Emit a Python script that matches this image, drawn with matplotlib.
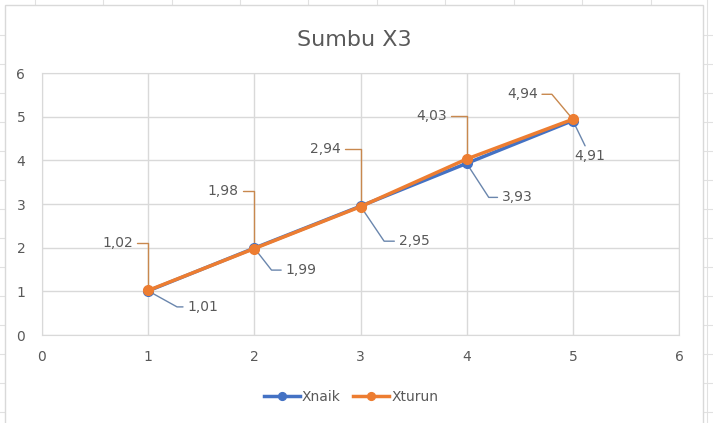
import matplotlib.pyplot as plt
from matplotlib.patches import Rectangle
from matplotlib.lines import Line2D

x = [1, 2, 3, 4, 5]
xnaik = [1.01, 1.99, 2.95, 3.93, 4.91]
xturun = [1.02, 1.98, 2.94, 4.03, 4.94]
labels_naik = ['1,01', '1,99', '2,95', '3,93', '4,91']
labels_turun = ['1,02', '1,98', '2,94', '4,03', '4,94']

blue = '#4472C4'
orange = '#ED7D31'
grey_txt = '#595959'
grid_c = '#D9D9D9'

plt.rcParams['font.family'] = ['DejaVu Sans']

W, H = 713, 423
fig = plt.figure(figsize=(W / 100, H / 100), dpi=100)
fig.patch.set_facecolor('white')

# spreadsheet cells behind the chart
for yy in range(35, 423, 29):
    fig.add_artist(Line2D([0, 1], [1 - yy / H, 1 - yy / H], color='#E1E1E1', lw=0.8, zorder=0))
for xx in [35, 103, 172, 240, 308, 377, 445, 514, 582, 651, 707]:
    fig.add_artist(Line2D([xx / W, xx / W], [0, 1], color='#E1E1E1', lw=0.8, zorder=0))

# chart area
fig.add_artist(Rectangle((5 / W, -0.05), (703 - 5) / W, 1.05 - 5 / H, transform=fig.transFigure,
                         facecolor='white', edgecolor=grid_c, lw=1.0, zorder=1))

ax = fig.add_axes([42 / W, 1 - 335 / H, (679 - 42) / W, (335 - 73) / H])
ax.set_zorder(2)
ax.set_facecolor('none')

ax.plot(x, xnaik, color=blue, lw=2.5, marker='o', ms=7, label='Xnaik', zorder=4)
ax.plot(x, xturun, color=orange, lw=2.5, marker='o', ms=7, label='Xturun', zorder=5)

ax.set_xlim(0, 6)
ax.set_ylim(0, 6)
ax.set_xticks(range(0, 7))
ax.set_yticks(range(0, 7))
ax.grid(True, color=grid_c, lw=1.0)
ax.set_axisbelow(True)
for s in ax.spines.values():
    s.set_color(grid_c)
ax.tick_params(length=0, labelsize=10, labelcolor=grey_txt)
ax.tick_params(axis='y', pad=12)
ax.tick_params(axis='x', pad=11)

# data labels with leader lines (offsets in pixels)
turun_off = [(-15, 47), (-16, 58), (-20, 58), (-20, 43), (-35, 25)]
turun_angle = [90, 90, 90, 90, 130]
for xi, yi, lab, (dx, dy), ang in zip(x, xturun, labels_turun, turun_off, turun_angle):
    ax.annotate(lab, (xi, yi), xytext=(dx * 0.72, dy * 0.72), textcoords='offset points',
                ha='right', va='center', fontsize=10, color=grey_txt,
                bbox=dict(boxstyle='square,pad=0.3', fc='none', ec='none'),
                arrowprops=dict(arrowstyle='-', color='#C8884E', lw=1.0, shrinkA=0, shrinkB=0,
                                connectionstyle='angle,angleA=0,angleB=%d,rad=0' % ang),
                zorder=3)

naik_off = [(39, -16), (31, -22), (38, -35), (35, -34)]
naik_angle = [-29, -52, -56, -57]
for xi, yi, lab, (dx, dy), ang in zip(x[:4], xnaik[:4], labels_naik[:4], naik_off, naik_angle):
    ax.annotate(lab, (xi, yi), xytext=(dx * 0.72, dy * 0.72), textcoords='offset points',
                ha='left', va='center', fontsize=10, color=grey_txt,
                bbox=dict(boxstyle='square,pad=0.3', fc='none', ec='none'),
                arrowprops=dict(arrowstyle='-', color='#6A86AD', lw=1.0, shrinkA=0, shrinkB=0,
                                connectionstyle='angle,angleA=0,angleB=%d,rad=0' % ang),
                zorder=3)
# last blue label sits straight below
ax.annotate(labels_naik[4], (x[4], xnaik[4]), xytext=(17 * 0.72, -28 * 0.72), textcoords='offset points',
            ha='center', va='top', fontsize=10, color=grey_txt,
            bbox=dict(boxstyle='square,pad=0.2', fc='none', ec='none'),
            arrowprops=dict(arrowstyle='-', color='#6A86AD', lw=1.0, shrinkA=0, shrinkB=0),
            zorder=3)

fig.text(354 / W, 1 - 40 / H, 'Sumbu X3', ha='center', va='center', fontsize=16, color=grey_txt)

leg = fig.legend(loc='center', bbox_to_anchor=(351 / W, 1 - 397 / H), ncol=2, frameon=False,
                 fontsize=10, handlelength=2.6, handletextpad=0.15, columnspacing=0.9, markerscale=0.8)
for t in leg.get_texts():
    t.set_color(grey_txt)

fig.savefig('out.png', dpi=100)
